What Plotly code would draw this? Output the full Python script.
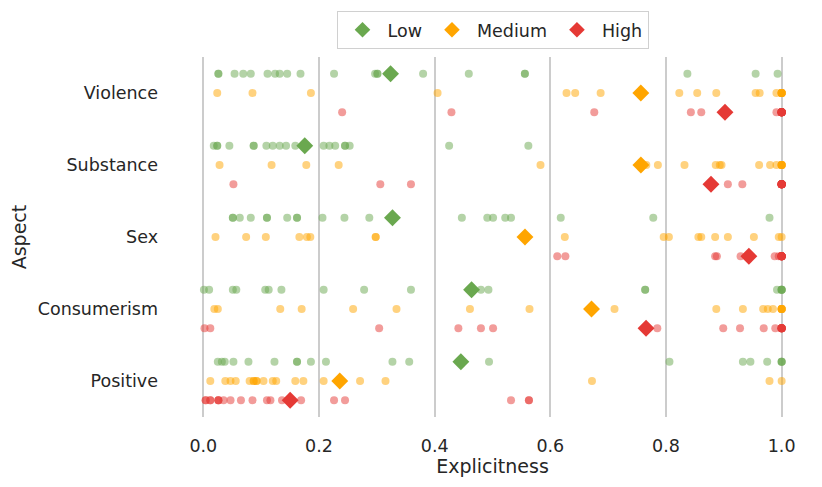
import numpy as np
import plotly.graph_objects as go

aspects = ['Violence', 'Substance', 'Sex', 'Consumerism', 'Positive']
levels = ['Low', 'Medium', 'High']
colors = {'Low': '#6aa84f', 'Medium': '#ffa500', 'High': '#e53935'}

# explicitness scores (overlapping dots at 1.0 counted from the means)
violence_low = [0.026, 0.026, 0.054, 0.069, 0.082, 0.111, 0.124, 0.132, 0.145, 0.168, 0.226,
                0.297, 0.301, 0.301, 0.380, 0.459, 0.556, 0.556, 0.837, 0.955, 0.993]
violence_medium = [0.024, 0.085, 0.186, 0.405, 0.628, 0.643, 0.687, 0.823, 0.854, 0.887, 0.955,
                   0.962, 0.991, 1.0, 1.0, 1.0, 1.0, 1.0, 1.0, 1.0]
violence_high = [0.240, 0.429, 0.676, 0.843, 0.861, 0.991, 1.0, 1.0, 1.0, 1.0, 1.0, 1.0, 1.0,
                 1.0, 1.0, 1.0, 1.0, 1.0, 1.0, 1.0]

substance_low = [0.018, 0.024, 0.024, 0.045, 0.087, 0.087, 0.109, 0.120, 0.132, 0.143, 0.159,
                 0.208, 0.218, 0.228, 0.245, 0.245, 0.253, 0.425, 0.562]
substance_medium = [0.028, 0.118, 0.178, 0.234, 0.583, 0.766, 0.786, 0.832, 0.886, 0.893, 0.896,
                    0.961, 0.980, 0.991, 1.0, 1.0, 1.0, 1.0, 1.0, 1.0]
substance_high = [0.052, 0.306, 0.359, 0.907, 0.932, 1.0, 1.0, 1.0, 1.0, 1.0, 1.0, 1.0, 1.0,
                  1.0, 1.0, 1.0, 1.0, 1.0, 1.0, 1.0]

sex_low = [0.051, 0.051, 0.063, 0.082, 0.110, 0.110, 0.145, 0.162, 0.162, 0.206, 0.244, 0.287,
           0.447, 0.491, 0.501, 0.522, 0.532, 0.618, 0.778, 0.979]
sex_medium = [0.021, 0.074, 0.108, 0.166, 0.179, 0.185, 0.298, 0.298, 0.625, 0.796, 0.805,
              0.856, 0.861, 0.885, 0.907, 0.952, 0.995, 1.0]
sex_high = [0.612, 0.626, 0.885, 0.888, 0.929, 0.988, 0.995, 1.0, 1.0, 1.0, 1.0, 1.0, 1.0,
            1.0, 1.0, 1.0, 1.0, 1.0, 1.0]

consumerism_low = [0.001, 0.010, 0.051, 0.057, 0.107, 0.113, 0.135, 0.208, 0.278, 0.359, 0.480,
                   0.493, 0.764, 0.764, 0.992, 1.0, 1.0, 1.0, 1.0]
consumerism_medium = [0.019, 0.025, 0.133, 0.170, 0.259, 0.334, 0.461, 0.564, 0.711, 0.887,
                      0.933, 0.968, 0.976, 0.985, 1.0, 1.0, 1.0, 1.0, 1.0, 1.0]
consumerism_high = [0.002, 0.012, 0.304, 0.441, 0.480, 0.501, 0.785, 0.899, 0.928, 0.969,
                    0.989, 1.0, 1.0, 1.0, 1.0, 1.0, 1.0, 1.0, 1.0, 1.0]

positive_low = [0.025, 0.032, 0.037, 0.052, 0.078, 0.123, 0.162, 0.162, 0.186, 0.212, 0.327,
                0.356, 0.494, 0.806, 0.933, 0.946, 0.975, 1.0, 1.0, 1.0]
positive_medium = [0.012, 0.038, 0.047, 0.056, 0.080, 0.087, 0.087, 0.092, 0.092, 0.104, 0.120,
                   0.126, 0.159, 0.173, 0.208, 0.271, 0.315, 0.672, 0.979, 1.0]
positive_high = [0.004, 0.004, 0.012, 0.012, 0.026, 0.026, 0.026, 0.035, 0.047, 0.065,
                 0.085, 0.110, 0.116, 0.136, 0.169, 0.226, 0.245, 0.532, 0.563, 0.563]

scores = {
    'Low': [violence_low, substance_low, sex_low, consumerism_low, positive_low],
    'Medium': [violence_medium, substance_medium, sex_medium, consumerism_medium, positive_medium],
    'High': [violence_high, substance_high, sex_high, consumerism_high, positive_high],
}

dodge = {'Low': -0.267, 'Medium': 0.0, 'High': 0.267}

fig = go.Figure()

# strips
for lvl in levels:
    xs, ys = [], []
    for i, vals in enumerate(scores[lvl]):
        xs += vals
        ys += [i + dodge[lvl]] * len(vals)
    fig.add_trace(go.Scatter(x=xs, y=ys, mode='markers', showlegend=False, hoverinfo='skip',
                             marker=dict(color=colors[lvl], size=8, opacity=0.5, line_width=0)))

# means
for lvl in levels:
    means = [np.mean(v) for v in scores[lvl]]
    fig.add_trace(go.Scatter(x=means, y=[i + dodge[lvl] for i in range(len(aspects))],
                             mode='markers', name=lvl,
                             marker=dict(color=colors[lvl], size=13, symbol='diamond', line_width=0)))

# page body adds ~8px offset, so margins are shifted to compensate
fig.update_layout(
    width=822, height=487,
    margin=dict(l=178, r=31, t=49, b=78, autoexpand=False),
    plot_bgcolor='white', paper_bgcolor='white',
    font=dict(family='DejaVu Sans', size=17.5, color='#262626'),
    legend=dict(orientation='h', x=0.5, xanchor='center', y=1.128, yanchor='top',
                bordercolor='#d0d0d0', borderwidth=1, font=dict(size=17.5),
                itemsizing='constant', itemwidth=40),
    xaxis=dict(range=[-0.03, 1.03], tickvals=[0, 0.2, 0.4, 0.6, 0.8, 1.0],
               ticktext=['0.0', '0.2', '0.4', '0.6', '0.8', '1.0'],
               showgrid=True, gridcolor='#cccccc', gridwidth=1.5, zeroline=False,
               showline=False, ticks='', ticklabelstandoff=16,
               title=dict(text='Explicitness', standoff=0, font=dict(size=19))),
    yaxis=dict(range=[4.5, -0.5], tickvals=list(range(len(aspects))), ticktext=aspects,
               showgrid=False, zeroline=False, showline=False, ticks='', ticklabelstandoff=27,
               title=dict(text='Aspect', standoff=9, font=dict(size=19))),
)

fig.write_html('out.html')
